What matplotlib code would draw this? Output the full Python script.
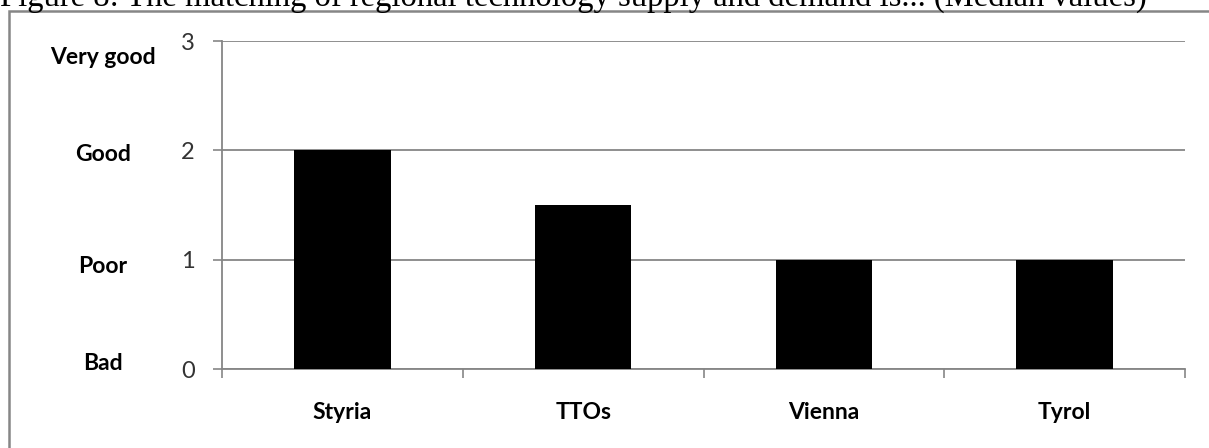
import matplotlib
matplotlib.use("Agg")
from matplotlib import pyplot as plt
from matplotlib.patches import Rectangle
from matplotlib.transforms import blended_transform_factory

regions = ["Styria", "TTOs", "Vienna", "Tyrol"]
medians = [2, 1.5, 1, 1]
ratings = ["Bad", "Poor", "Good", "Very good"]
rating_y = [0.05, 0.94, 1.96, 2.85]  # where the word labels sit (data units)
title = "Figure 8: The matching of regional technology supply and demand is... (Median values)"

grey = "#868686"

fig = plt.figure(figsize=(12.09, 4.48), dpi=100)

# clipped caption at the very top
fig.text(0.0, 1 - 6 / 448, title, family="Liberation Serif", fontsize=23.5,
         va="baseline", ha="left")

# grey frame around the chart (runs off the right/bottom edges)
fig.patches.append(Rectangle((9 / 1209, -0.1), 1.2, 0.1 + (448 - 11) / 448,
                             transform=fig.transFigure, fill=False,
                             edgecolor=grey, linewidth=1.8))

ax = fig.add_axes([222 / 1209, 1 - 369 / 448, (1185 - 222) / 1209, (369 - 41) / 448])
x = list(range(len(regions)))
ax.bar(x, medians, width=0.4, color="black", zorder=3)

ax.set_xlim(-0.5, len(regions) - 0.5)
ax.set_ylim(0, 3)
ax.set_yticks([0, 1, 2, 3])
ax.set_yticklabels(["0", "1", "2", "3"], family="Lato", fontsize=17, color="#333333")
ax.set_xticks(x)
ax.set_xticklabels(regions, family="Lato", fontweight="bold", fontsize=16.5)
ax.set_xticks([i - 0.5 for i in range(len(regions) + 1)], minor=True)
ax.tick_params(axis="x", which="major", length=0, pad=24)
ax.tick_params(axis="x", which="minor", length=6.5, width=1.2, color=grey)
ax.tick_params(axis="y", length=6.5, width=1.2, color=grey, pad=13)

ax.grid(axis="y", color=grey, linewidth=1.3, zorder=0)
for side in ["top", "right"]:
    ax.spines[side].set_visible(False)
for side in ["left", "bottom"]:
    ax.spines[side].set_color(grey)
    ax.spines[side].set_linewidth(1.3)

trans = blended_transform_factory(fig.transFigure, ax.transData)
for label, y in zip(ratings, rating_y):
    ax.text(103 / 1209, y, label, transform=trans, ha="center", va="center",
            family="Lato", fontweight="bold", fontsize=16.5)

fig.savefig("out.png", dpi=100)
